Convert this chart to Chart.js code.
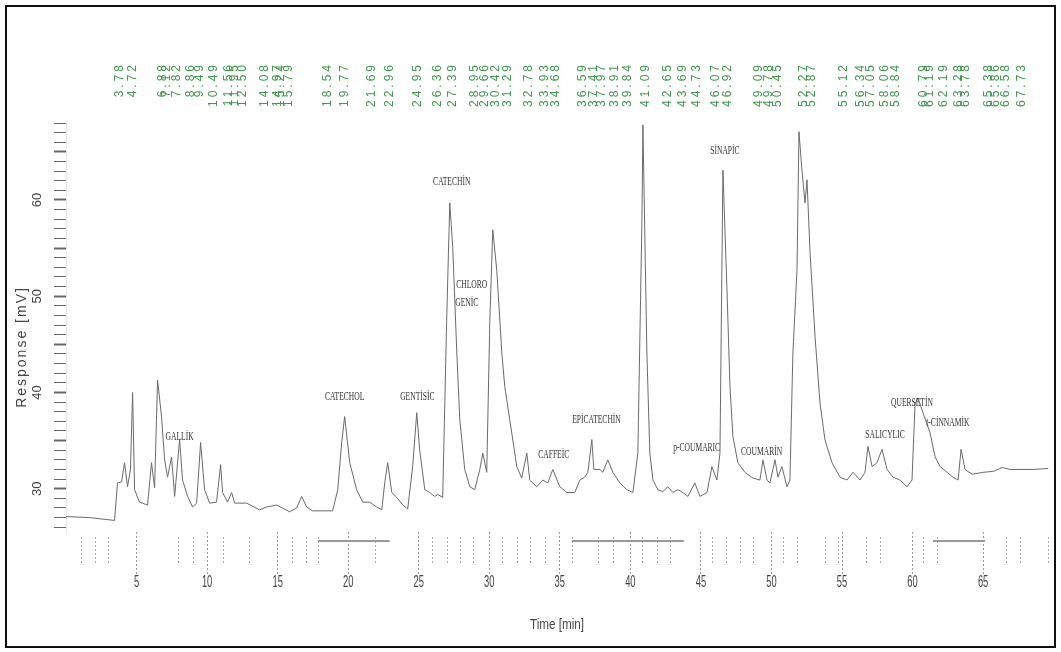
<!DOCTYPE html>
<html>
<head>
<meta charset="utf-8">
<script src="https://cdn.jsdelivr.net/npm/chart.js@4"></script>
<style>
  body { margin: 0; background: #fff; }
  canvas { display: block; }
</style>
</head>
<body>
<canvas id="cnvChrom" width="1061" height="652"></canvas>
<script>
// trace: time [min] / response [mV]
let times = [0.0, 1.67, 3.44, 3.65, 3.94, 4.15, 4.36, 4.57, 4.72, 4.86,
  5.21, 5.78, 6.06, 6.28, 6.49, 6.77, 6.99, 7.20, 7.48, 7.70,
  8.05, 8.26, 8.62, 8.97, 9.26, 9.54, 9.82, 10.18, 10.67, 10.96,
  11.10, 11.45, 11.74, 11.95, 12.80, 13.72, 14.22, 14.93, 15.85, 16.35,
  16.70, 17.06, 17.48, 18.90, 19.26, 19.54, 19.75, 20.11, 20.60, 21.03,
  21.52, 22.02, 22.38, 22.59, 22.80, 23.09, 23.44, 23.87, 24.22, 24.57,
  24.86, 25.07, 25.43, 25.78, 26.13, 26.35, 26.70, 26.98, 27.20, 27.41,
  27.70, 27.91, 28.26, 28.62, 28.97, 29.33, 29.54, 29.82, 30.04, 30.25,
  30.53, 30.89, 31.10, 31.45, 31.95, 32.30, 32.66, 32.87, 33.37, 33.79,
  34.15, 34.50, 35.00, 35.50, 36.06, 36.42, 36.77, 36.99, 37.27, 37.41,
  37.84, 38.05, 38.40, 38.76, 39.25, 39.75, 40.18, 40.53, 40.82, 40.89,
  41.17, 41.38, 41.60, 41.95, 42.30, 42.66, 43.01, 43.37, 43.72, 44.08,
  44.57, 44.93, 45.43, 45.78, 46.13, 46.35, 46.56, 46.84, 47.06, 47.27,
  47.62, 48.12, 48.69, 49.18, 49.40, 49.68, 49.89, 50.25, 50.46, 50.74,
  51.10, 51.31, 51.52, 51.81, 51.95, 52.16, 52.38, 52.52, 52.73, 53.09,
  53.44, 53.79, 54.29, 54.86, 55.35, 55.78, 56.28, 56.63, 56.84, 57.13,
  57.48, 57.84, 58.19, 58.62, 59.11, 59.61, 59.96, 60.18, 60.39, 60.74,
  61.24, 61.60, 61.95, 62.45, 62.87, 63.23, 63.44, 63.72, 64.22, 65.00,
  65.71, 66.35, 66.91, 68.54, 69.61]
let response = [27.1, 27.0, 26.7, 30.6, 30.7, 32.7, 30.2, 32.0, 40.0, 29.9,
  28.6, 28.3, 32.7, 30.1, 41.3, 37.5, 33.0, 31.2, 33.3, 29.2,
  35.1, 30.9, 29.2, 28.1, 28.5, 34.8, 29.9, 28.5, 28.6, 32.5,
  29.6, 28.6, 29.6, 28.5, 28.5, 27.8, 28.1, 28.3, 27.6, 28.0,
  29.2, 28.1, 27.7, 27.7, 29.9, 34.8, 37.5, 32.7, 29.9, 28.6,
  28.6, 28.1, 27.8, 30.6, 32.7, 29.6, 29.1, 28.3, 27.9, 32.3,
  37.9, 34.0, 29.9, 29.6, 29.2, 29.4, 29.1, 47.5, 59.7, 55.1,
  44.1, 37.2, 32.0, 30.2, 29.9, 32.0, 33.7, 31.7, 47.5, 56.9,
  52.7, 44.1, 40.6, 37.2, 32.3, 31.1, 33.7, 30.9, 30.2, 30.9,
  30.6, 32.0, 30.2, 29.6, 29.6, 30.9, 31.2, 31.7, 35.1, 32.0,
  32.0, 31.7, 33.0, 31.7, 30.6, 29.9, 29.6, 33.7, 57.9, 67.8,
  44.1, 33.7, 30.9, 29.9, 29.7, 30.2, 29.6, 29.9, 29.6, 29.2,
  30.6, 29.2, 29.6, 32.3, 30.9, 33.7, 63.1, 51.0, 40.6, 35.4,
  32.7, 31.7, 31.1, 30.9, 33.0, 30.9, 30.6, 33.0, 31.2, 32.3,
  30.2, 30.9, 44.1, 52.7, 67.1, 63.1, 59.7, 62.1, 54.7, 45.8,
  38.9, 35.1, 32.7, 31.2, 30.9, 31.7, 30.9, 31.7, 34.4, 32.3,
  32.7, 34.1, 32.0, 31.2, 30.9, 30.2, 30.9, 38.9, 39.4, 37.9,
  35.8, 33.3, 32.3, 31.7, 31.2, 30.9, 34.1, 32.0, 31.5, 31.7,
  31.8, 32.2, 32.0, 32.0, 32.1]

let yTickLabels = [30, 40, 50, 60]

// retention times printed in green along the top
let retentionTimes = [3.78, 4.72, 6.88, 7.12, 7.82, 8.86, 9.49, 10.49, 11.56, 11.95,
  12.50, 14.08, 14.97, 15.24, 15.79, 18.54, 19.77, 21.69, 22.96, 24.95,
  26.36, 27.39, 28.95, 29.66, 30.42, 31.29, 32.78, 33.93, 34.68, 36.59,
  37.41, 37.97, 38.91, 39.84, 41.09, 42.65, 43.69, 44.73, 46.07, 46.92,
  49.09, 49.78, 50.45, 52.27, 52.87, 55.12, 56.34, 57.05, 58.06, 58.84,
  60.79, 61.19, 62.19, 63.28, 63.78, 65.38, 65.86, 66.58, 67.73]

// compound names and where they sit (time, mV)
let compounds = ['GALLİK', 'CATECHOL', 'GENTİSİC', 'CATECHİN', 'CHLORO', 'GENİC', 'CAFFEİC',
  'EPİCATECHİN', 'p-COUMARIC', 'SİNAPİC', 'COUMARİN', 'SALICYLIC', 'QUERSETİN', 't-CİNNAMİK']
let compoundTimes = [8.05, 19.75, 24.9, 27.34, 28.76, 28.4, 34.57, 37.6, 44.7, 46.7, 49.3, 58.05, 59.96, 62.5]
let compoundValues = [35.4, 39.6, 39.6, 61.9, 51.2, 49.3, 33.5, 37.2, 34.3, 65.1, 33.9, 35.6, 38.9, 36.9]

// integration marks under the trace
let markerTimes = [1.03, 2.02, 3.01, 7.91, 8.97, 11.1, 12.94, 15.99, 16.99, 17.84,
  21.88, 25.93, 26.99, 27.91, 28.83, 30.89, 31.95, 32.87, 33.94, 35.85,
  37.70, 38.76, 40.82, 41.88, 42.8, 45.78, 46.77, 47.77, 48.69, 50.82,
  51.81, 53.79, 54.72, 56.70, 57.70, 60.75, 61.74, 66.63, 67.62, 69.61]
let baselineStarts = [17.84, 35.85, 61.45]
let baselineEnds = [22.94, 43.79, 65.14]

function squeeze(ctx, text, x, y, sx) {
  ctx.save()
  ctx.translate(x, y)
  ctx.scale(sx, 1)
  ctx.fillText(text, 0, 0)
  ctx.restore()
}

const extras = {
  id: 'extras',
  beforeDraw(chart) {
    let ctx = chart.ctx
    ctx.save()
    ctx.fillStyle = '#fff'
    ctx.fillRect(0, 0, chart.width, chart.height)
    ctx.restore()
  },
  afterDraw(chart) {
    let ctx = chart.ctx
    let xs = chart.scales.x
    let ys = chart.scales.y
    let area = chart.chartArea
    ctx.save()

    // green retention times, rotated
    ctx.fillStyle = '#3f9a4c'
    ctx.font = '12px "Liberation Sans", Arial, sans-serif'
    ctx.letterSpacing = '3px'
    ctx.textAlign = 'right'
    ctx.textBaseline = 'middle'
    retentionTimes.forEach((t) => {
      ctx.save()
      ctx.translate(xs.getPixelForValue(t), 62)
      ctx.rotate(-Math.PI / 2)
      ctx.fillText(t.toFixed(2), 0, 0)
      ctx.restore()
    })
    ctx.letterSpacing = '0px'

    // compound names
    ctx.fillStyle = '#333'
    ctx.font = '13px "Liberation Serif", "Times New Roman", serif'
    ctx.textAlign = 'center'
    compounds.forEach((name, i) => {
      squeeze(ctx, name, xs.getPixelForValue(compoundTimes[i]), ys.getPixelForValue(compoundValues[i]), 0.58)
    })

    // integration marks and baselines
    ctx.strokeStyle = '#aaa'
    ctx.lineWidth = 1
    ctx.setLineDash([2, 2])
    markerTimes.forEach((t) => {
      let px = Math.round(xs.getPixelForValue(t)) + 0.5
      ctx.beginPath()
      ctx.moveTo(px, area.bottom + 5)
      ctx.lineTo(px, area.bottom + 33)
      ctx.stroke()
    })
    ctx.setLineDash([])
    ctx.strokeStyle = '#999'
    ctx.lineWidth = 2
    baselineStarts.forEach((t, i) => {
      ctx.beginPath()
      ctx.moveTo(xs.getPixelForValue(t), area.bottom + 9)
      ctx.lineTo(xs.getPixelForValue(baselineEnds[i]), area.bottom + 9)
      ctx.stroke()
    })

    // x tick labels and title, narrow
    ctx.fillStyle = '#444'
    ctx.font = '17px "Liberation Sans", Arial, sans-serif'
    ctx.textAlign = 'center'
    ctx.textBaseline = 'middle'
    xs.ticks.forEach((tk) => {
      squeeze(ctx, String(tk.value), xs.getPixelForValue(tk.value), 582, 0.55)
    })
    ctx.font = '15px "Liberation Sans", Arial, sans-serif'
    squeeze(ctx, 'Time [min]', (area.left + area.right) / 2, 625, 0.78)

    // y tick labels and title, rotated
    ctx.font = '13px "Liberation Sans", Arial, sans-serif'
    yTickLabels.forEach((v) => {
      ctx.save()
      ctx.translate(37, ys.getPixelForValue(v))
      ctx.rotate(-Math.PI / 2)
      ctx.fillText(String(v), 0, 0)
      ctx.restore()
    })
    ctx.save()
    ctx.font = '14px "Liberation Sans", Arial, sans-serif'
    ctx.letterSpacing = '2px'
    ctx.translate(22, 347)
    ctx.rotate(-Math.PI / 2)
    ctx.fillText('Response [mV]', 0, 0)
    ctx.restore()

    // frame
    ctx.strokeStyle = '#111'
    ctx.lineWidth = 2
    ctx.strokeRect(6, 6, 1049, 641)
    ctx.restore()
  }
}

let ctx = document.getElementById('cnvChrom').getContext('2d')
let chart = new Chart(ctx, {
  type: 'line',
  data: {
    datasets: [{
      data: times.map((t, i) => ({ x: t, y: response[i] })),
      borderColor: '#6b6b6b',
      borderWidth: 1,
      pointRadius: 0,
      tension: 0,
      clip: false,
    }],
  },
  options: {
    responsive: false,
    animation: false,
    layout: { padding: { top: 123, right: 13, left: 0, bottom: 0 } },
    plugins: { legend: { display: false }, tooltip: { enabled: false } },
    scales: {
      x: {
        type: 'linear',
        min: 0,
        max: 69.6,
        afterFit: (s) => { s.height = 120 },
        afterBuildTicks: (s) => { s.ticks = s.ticks.filter((t) => t.value > 0) },
        ticks: { display: false, stepSize: 5, includeBounds: false },
        grid: { drawOnChartArea: false, tickLength: 43, tickColor: '#999', tickBorderDash: [2, 2] },
        border: { display: false },
      },
      y: {
        min: 25.5,
        max: 68,
        afterFit: (s) => { s.width = 66 },
        ticks: { display: false, stepSize: 1, includeBounds: false },
        grid: {
          drawOnChartArea: false,
          tickLength: 12,
          tickColor: '#666',
          tickWidth: (c) => (c.tick && c.tick.value % 5 === 0 ? 2 : 1),
        },
        border: { color: '#e6e6e6' },
      },
    },
  },
  plugins: [extras],
})
</script>
</body>
</html>
